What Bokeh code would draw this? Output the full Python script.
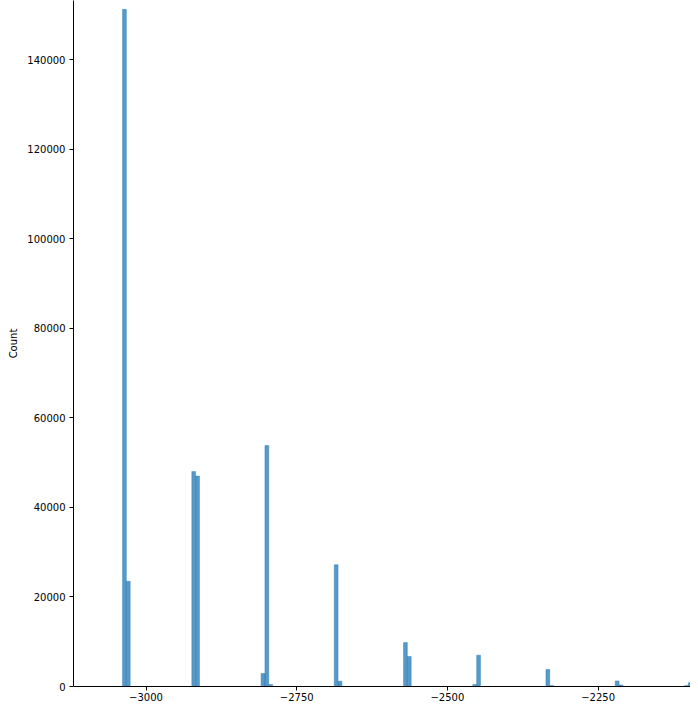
from bokeh.plotting import figure
from bokeh.models import FixedTicker, Range1d, ColumnDataSource
from bokeh.embed import file_html
from bokeh.resources import INLINE

# Histogram data
bin_width = 6.386
first_edge = -3039.0
bin_index = [0, 1, 18, 19, 36, 37, 38, 55, 56, 73, 74, 91, 92, 110, 111, 128, 129, 146, 147]
counts = [151200, 23500, 48000, 47000, 2900, 53800, 450, 27200, 1200, 9800, 6700,
          450, 7000, 3800, 200, 1250, 350, 200, 850]

x_ticks = [-3000, -2750, -2500, -2250]
x_tick_labels = ["\u22123000", "\u22122750", "\u22122500", "\u22122250"]
y_ticks = [0, 20000, 40000, 60000, 80000, 100000, 120000, 140000]
y_tick_labels = ["0", "20000", "40000", "60000", "80000", "100000", "120000", "140000"]
y_label = "Count"

lefts = [first_edge + i * bin_width for i in bin_index]
rights = [l + bin_width for l in lefts]
src = ColumnDataSource(dict(left=lefts, right=rights, top=counts, bottom=[0] * len(counts)))

p = figure(width=690, height=704, output_backend="svg", toolbar_location=None,
           x_range=Range1d(-3120.3, -2096.7), y_range=Range1d(0, 153177),
           min_border_left=73, min_border_right=0, min_border_top=0, min_border_bottom=18)
p.outline_line_color = None
p.background_fill_color = "white"
p.border_fill_color = "white"
p.xgrid.visible = False
p.ygrid.visible = False

p.quad(left="left", right="right", top="top", bottom="bottom", source=src,
       fill_color="#1f77b4", fill_alpha=0.75, line_color="#1f77b4", line_alpha=0.75, line_width=0.5)

for ax in (p.xaxis[0], p.yaxis[0]):
    ax.axis_line_color = "black"
    ax.axis_line_width = 1
    ax.major_tick_line_color = "black"
    ax.major_tick_out = 4
    ax.major_tick_in = 0
    ax.minor_tick_line_color = None
    ax.major_label_text_font = "DejaVu Sans"
    ax.major_label_text_font_size = "10px"
    ax.major_label_text_color = "black"

p.xaxis[0].ticker = FixedTicker(ticks=x_ticks)
p.xaxis[0].major_label_overrides = {t: l for t, l in zip(x_ticks, x_tick_labels)}
p.xaxis[0].major_label_standoff = 2

p.yaxis[0].ticker = FixedTicker(ticks=y_ticks)
p.yaxis[0].major_label_overrides = {t: l for t, l in zip(y_ticks, y_tick_labels)}
p.yaxis[0].major_label_standoff = 4
p.yaxis[0].axis_label = y_label
p.yaxis[0].axis_label_text_font = "DejaVu Sans"
p.yaxis[0].axis_label_text_font_size = "10px"
p.yaxis[0].axis_label_text_font_style = "normal"
p.yaxis[0].axis_label_text_color = "black"
p.yaxis[0].axis_label_standoff = 5

open("out.html", "w").write(file_html(p, INLINE))
